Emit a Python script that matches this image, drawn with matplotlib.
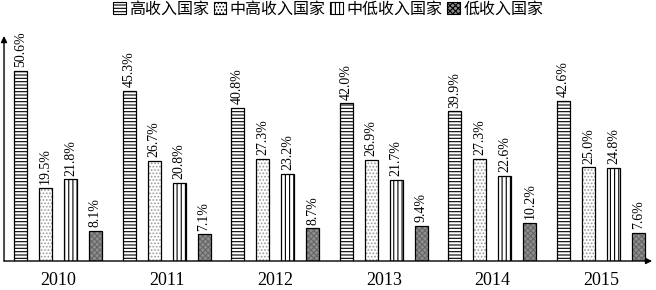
import matplotlib
matplotlib.use("Agg")
import matplotlib.pyplot as plt
from matplotlib.patches import Patch
import numpy as np

years = ["2010", "2011", "2012", "2013", "2014", "2015"]
series_names = ["高收入国家", "中高收入国家", "中低收入国家", "低收入国家"]
high = [50.6, 45.3, 40.8, 42.0, 39.9, 42.6]
upper_mid = [19.5, 26.7, 27.3, 26.9, 27.3, 25.0]
lower_mid = [21.8, 20.8, 23.2, 21.7, 22.6, 24.8]
low = [8.1, 7.1, 8.7, 9.4, 10.2, 7.6]

plt.rcParams["font.family"] = ["Liberation Serif", "Noto Sans CJK SC"]
plt.rcParams["hatch.linewidth"] = 0.8

fig = plt.figure(figsize=(6.56, 2.90), dpi=100)
ax = fig.add_axes([0, 0.1, 1, 0.9])

x = np.arange(len(years))
step = 0.23
width = 0.12
# face colour, hatch, hatch colour
styles = [
    ("white", "-----", "black"),
    ("white", ".....", "#999999"),
    ("white", "||||", "black"),
    ("#8f8f8f", "xxxxxx", "#666666"),
]
all_vals = [high, upper_mid, lower_mid, low]

for k, (vals, name, st) in enumerate(zip(all_vals, series_names, styles)):
    fc, hatch, hc = st
    pos = x + (k - 1.5) * step
    # hatch layer, then black outline on top
    ax.bar(pos, vals, width=width, facecolor=fc, hatch=hatch,
           edgecolor=hc, linewidth=0)
    ax.bar(pos, vals, width=width, facecolor="none", edgecolor="black",
           linewidth=0.9)
    for px, v in zip(pos, vals):
        ax.text(px, v + 1.0, f"{v:.1f}%", rotation=90, ha="center",
                va="bottom", fontsize=10)

handles = [Patch(facecolor=fc, hatch=h, edgecolor="black", linewidth=0.8)
           for fc, h, hc in styles]

ax.set_xlim(-0.534, 5.506)
ax.set_ylim(0, 69.6)
for s in ax.spines.values():
    s.set_visible(False)
ax.set_yticks([])
ax.set_xticks(x)
ax.set_xticklabels(years, fontsize=13)
ax.tick_params(axis="x", length=0, pad=8)

x0 = -0.497
ax.annotate("", xy=(5.47, 0), xytext=(x0, 0),
            arrowprops=dict(arrowstyle="-|>", color="black", lw=1,
                            mutation_scale=9, shrinkA=0, shrinkB=0))
ax.annotate("", xy=(x0, 60.0), xytext=(x0, 0),
            arrowprops=dict(arrowstyle="-|>", color="black", lw=1,
                            mutation_scale=9, shrinkA=0, shrinkB=0))

fig.legend(handles, series_names, loc="upper center",
           bbox_to_anchor=(0.5, 1.02), ncol=4,
           frameon=False, handlelength=0.8, handleheight=0.8,
           handletextpad=0.2, columnspacing=0.3, borderaxespad=0,
           prop={"family": ["Noto Sans CJK SC"], "size": 11.5})

fig.savefig("out.png", dpi=100)
